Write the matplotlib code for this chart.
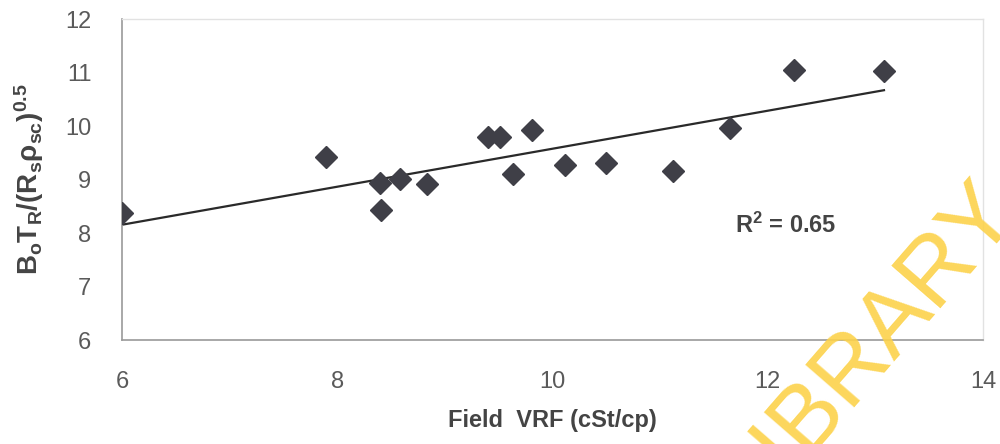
import numpy as np
from matplotlib import pyplot as plt

# field data
vrf = [6.0, 7.9, 8.4, 8.41, 8.58, 8.83, 9.4, 9.51, 9.63, 9.81,
       10.12, 10.5, 11.12, 11.65, 12.24, 13.08]
group = [8.38, 9.42, 8.93, 8.43, 9.02, 8.92, 9.8, 9.8, 9.1, 9.93,
         9.27, 9.31, 9.16, 9.97, 11.05, 11.03]
r2_label = 'R$^2$ = 0.65'
xticks = [6, 8, 10, 12, 14]
yticks = [6, 7, 8, 9, 10, 11, 12]

plt.rcParams['font.family'] = ['Liberation Sans', 'DejaVu Sans']
plt.rcParams['mathtext.fontset'] = 'custom'
plt.rcParams['mathtext.rm'] = 'Liberation Sans:bold'
plt.rcParams['mathtext.it'] = 'Liberation Sans:bold'
plt.rcParams['mathtext.bf'] = 'Liberation Sans:bold'

fig = plt.figure(figsize=(10, 4.44), dpi=100)
ax = fig.add_axes([0.122, 0.234, 0.861, 0.723])

ax.plot(vrf, group, 'D', color='#3f3f47', ms=11.5, zorder=3)

# linear trend line
k, b = np.polyfit(vrf, group, 1)
xs = np.array([min(vrf), max(vrf)])
ax.plot(xs, k * xs + b, color='#2a2a2a', lw=1.6, zorder=2)

ax.set_xlim(6, 14)
ax.set_ylim(6, 12)
ax.set_xticks(xticks)
ax.set_yticks(yticks)
ax.tick_params(length=0, labelsize=17, labelcolor='#5a5a5a')
ax.tick_params(axis='x', pad=22)
ax.tick_params(axis='y', pad=22)

for s in ['left', 'bottom']:
    ax.spines[s].set_color('#9a9a9a')
    ax.spines[s].set_linewidth(1.2)
for s in ['top', 'right']:
    ax.spines[s].set_color('#e2e2e2')
    ax.spines[s].set_linewidth(1.0)

ax.set_xlabel('Field  VRF (cSt/cp)', fontsize=17, fontweight='bold',
              color='#444444', labelpad=12)
ax.set_ylabel(r'B$_\mathregular{o}$T$_\mathregular{R}$/(R$_\mathregular{s}$ρ$_\mathregular{sc}$)$^\mathregular{0.5}$',
              fontsize=20, fontweight='bold', color='#444444', labelpad=14)

ax.text(11.7, 8.14, r2_label, fontsize=17, fontweight='bold', color='#444444',
        va='center')

# watermark
fig.text(0.868, 0.22, 'LIBRARY', fontsize=68, color='#fcd24a', rotation=49,
         ha='center', va='center', alpha=0.9, zorder=10)

fig.savefig('out.png')
